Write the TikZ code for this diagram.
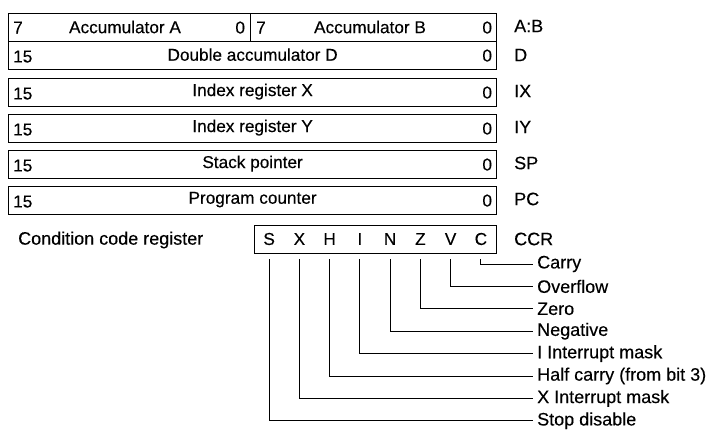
\documentclass[tikz,border=0pt]{standalone}
\usepackage{fontspec}
\setmainfont{Liberation Sans}[BoldFont={Liberation Sans}, BoldFeatures={FakeBold=0.3}]
\begin{document}
\begin{tikzpicture}[x=1pt,y=-1pt,
  reg/.style={draw, line width=1.2pt, inner sep=0, anchor=north west, minimum height=28},
  txt/.style={inner sep=0, font=\fontsize{17.2}{19}\selectfont\bfseries},
  lbl/.style={inner xsep=4pt, inner ysep=0, anchor=west, font=\fontsize{18}{20}\selectfont\bfseries},
  rname/.style={inner sep=0, anchor=west, font=\fontsize{18}{20}\selectfont\bfseries},
  brk/.style={line width=0.85pt}]
\useasboundingbox (0,0) rectangle (713,430);
% register boxes
\node[reg, minimum width=242] (A) at (8,13) {};
\node[reg, minimum width=246] (B) at (250,13) {};
\node[reg, minimum width=488] (D) at (8,41) {};
\node[reg, minimum width=488] (IX) at (8,78) {};
\node[reg, minimum width=488] (IY) at (8,114) {};
\node[reg, minimum width=488] (SP) at (8,150) {};
\node[reg, minimum width=488] (PC) at (8,186) {};
\node[reg, minimum width=242] (CCR) at (254,225) {};
% A:B row
\node[txt, anchor=west] (a7) at ([xshift=5pt]A.west) {7};
\node[txt] (an) at (125,27) {Accumulator A};
\node[txt, anchor=east] (a0) at ([xshift=-6pt]A.east) {0};
\node[txt, anchor=west] (b7) at ([xshift=6pt]B.west) {7};
\node[txt] (bn) at (370,27) {Accumulator B};
\node[txt, anchor=east] (b0) at ([xshift=-5pt]B.east) {0};
% wide rows
\foreach \r/\t in {D/Double accumulator D, IX/Index register X, IY/Index register Y, SP/Stack pointer, PC/Program counter}{
  \node[txt, anchor=west] (\r15) at ([xshift=5pt,yshift=-1pt]\r.west) {15};
  \node[txt] (\r n) at ([yshift=1pt]\r.center) {\t};
  \node[txt, anchor=east] (\r0) at ([xshift=-5pt]\r.east) {0};
}
% register names
\node[rname] (nAB) at (514,26) {A:B};
\node[rname] (nD) at (514,55) {D};
\node[rname] (nIX) at (514,91) {IX};
\node[rname] (nIY) at (514,127) {IY};
\node[rname] (nSP) at (514,163) {SP};
\node[rname] (nPC) at (514,199) {PC};
\node[rname] (nCCR) at (514,239) {CCR};
\node[rname] (ccrt) at (18,240) {Condition code register};
% CCR bits
\node[txt] (bS) at (269.1,239) {S};
\node[txt] (bX) at (299.4,239) {X};
\node[txt] (bH) at (329.6,239) {H};
\node[txt] (bI) at (359.9,239) {I};
\node[txt] (bN) at (390.1,239) {N};
\node[txt] (bZ) at (420.4,239) {Z};
\node[txt] (bV) at (450.6,239) {V};
\node[txt] (bC) at (480.9,239) {C};
% flag labels
\node[lbl] (fC) at (533,264) {Carry};
\node[lbl] (fV) at (533,286.4) {Overflow};
\node[lbl] (fZ) at (533,308.8) {Zero};
\node[lbl] (fN) at (533,331.2) {Negative};
\node[lbl] (fI) at (533,353.6) {I Interrupt mask};
\node[lbl] (fH) at (533,376) {Half carry (from bit 3)};
\node[lbl] (fX) at (533,398.4) {X Interrupt mask};
\node[lbl] (fS) at (533,420.8) {Stop disable};
\coordinate (ls) at (0,259);
\foreach \b in {C,V,Z,N,I,H,X,S}{
  \draw[brk] (b\b |- ls) |- (f\b.west);
}
\end{tikzpicture}
\end{document}
